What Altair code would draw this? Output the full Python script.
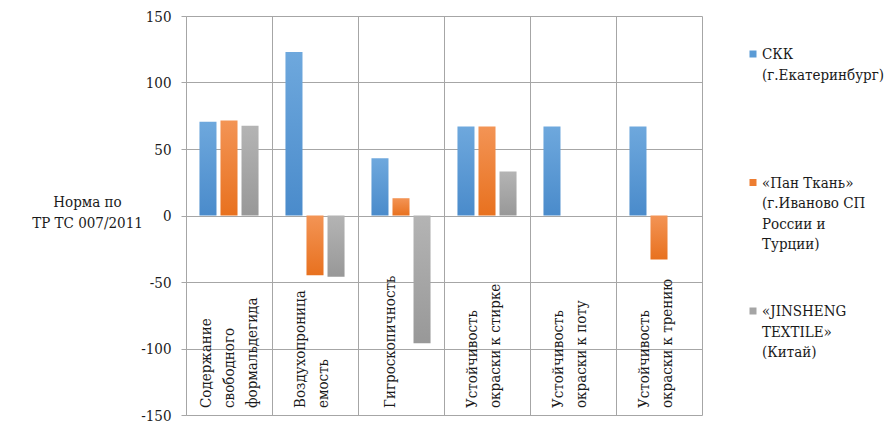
import altair as alt
import pandas as pd

# ---- data ----
categories = [
    "Содержание\nсвободного\nформальдегида",
    "Воздухопроница\nемость",
    "Гигроскопичность",
    "Устойчивость\nокраски к стирке",
    "Устойчивость\nокраски к поту",
    "Устойчивость\nокраски к трению",
]
series_keys = ["СКК (г.Екатеринбург)",
               "«Пан Ткань» (г.Иваново СП России и Турции)",
               "«JINSHENG TEXTILE» (Китай)"]
series_labels = ["СКК\n(г.Екатеринбург)",
                 "«Пан Ткань»\n(г.Иваново СП\nРоссии и\nТурции)",
                 "«JINSHENG\nTEXTILE»\n(Китай)"]
ckk = [70.5, 123, 43, 67, 67, 67]
pan = [71.5, -45, 13, 67, None, -33]
jin = [67.5, -46, -96, 33, None, None]
y_ticks = [-150, -100, -50, 0, 50, 100, 150]
y_title = ["Норма по", "ТР ТС 007/2011"]
colors = ["#5B9BD5", "#ED7D31", "#A5A5A5"]
grad_top = ["#6EA8DD", "#F39455", "#B4B4B4"]
grad_bottom = ["#4A8BCB", "#E8711F", "#989898"]

rows = []
for s, vals in zip(series_keys, [ckk, pan, jin]):
    for c, v in zip(categories, vals):
        if v is not None:
            rows.append({"cat": c, "series": s, "value": v})
df = pd.DataFrame(rows)
lab_df = pd.DataFrame({"cat": categories,
                       "nlines": [c.count("\n") + 1 for c in categories]})
leg_df = pd.DataFrame({"series": series_keys, "label": series_labels})

FONT = "DejaVu Serif Condensed, DejaVu Serif"
FS = 15
GRID = "#a6a6a6"
TXT = "#1a1a1a"

color_scale = alt.Scale(domain=series_keys, range=colors)

x_enc = alt.X("cat:N", sort=categories,
              scale=alt.Scale(paddingInner=0, paddingOuter=0),
              axis=alt.Axis(labels=False, ticks=False, domain=False, title=None,
                            grid=True, tickBand="extent", gridColor=GRID,
                            gridOpacity=1))
xoff_enc = alt.XOffset("series:N", sort=series_keys,
                       scale=alt.Scale(domain=series_keys, paddingInner=0.19,
                                       paddingOuter=0.64))
y_enc = alt.Y("value:Q",
              scale=alt.Scale(domain=[-150, 150], nice=False),
              axis=alt.Axis(values=y_ticks, title=y_title, titleAngle=0,
                            titleAlign="center", titleBaseline="middle",
                            titleX=-99, titleY=185,
                            titleFontSize=FS, titleFontWeight="normal",
                            titleColor=TXT, titleLineHeight=21,
                            labelFontSize=FS, labelColor=TXT,
                            labelExpr="replace(datum.label, '\u2212', '-')",
                            labelPadding=10, tickSize=5, tickColor=GRID,
                            domainColor=GRID, gridColor=GRID, gridOpacity=1))

bar_layers = []
for s, top, bot in zip(series_keys, grad_top, grad_bottom):
    bar_layers.append(
        alt.Chart(df).transform_filter(alt.datum.series == s).mark_bar(
            color=alt.Gradient(gradient="linear", x1=0, x2=0, y1=0, y2=1,
                               stops=[alt.GradientStop(color=top, offset=0),
                                      alt.GradientStop(color=bot, offset=1)])
        ).encode(x=x_enc, xOffset=xoff_enc, y=y_enc)
    )

label_layers = []
for n, shift in [(1, -11), (2, -15), (3, -23)]:
    label_layers.append(
        alt.Chart(lab_df).transform_filter(alt.datum.nlines == n).mark_text(
            angle=270, align="left", baseline="middle", lineBreak="\n",
            fontSize=FS, lineHeight=23, color=TXT, dx=7, dy=shift,
        ).encode(
            x=alt.X("cat:N", sort=categories),
            y=alt.datum(-150),
            text="cat:N",
        )
    )

main = alt.layer(*bar_layers, *label_layers).properties(width=516, height=399)

leg_base = alt.Chart(leg_df).encode(
    y=alt.Y("series:N", sort=series_keys,
            scale=alt.Scale(type="point", range=[38, 295], padding=0),
            axis=None)
)
leg_sq = leg_base.mark_square(size=49, opacity=1).encode(
    x=alt.value(11),
    color=alt.Color("series:N", scale=color_scale, legend=None),
)
leg_txt = leg_base.mark_text(
    align="left", baseline="top", lineBreak="\n", fontSize=FS,
    lineHeight=20.5, color=TXT, dy=-7,
).encode(x=alt.value(20), text="label:N")
legend = alt.layer(leg_sq, leg_txt).properties(width=130, height=399)

chart = alt.hconcat(main, legend, spacing=40, bounds="flush").properties(
    padding={"left": 23, "top": 1, "right": 0, "bottom": 0}
).configure(font=FONT).configure_view(stroke=None).configure_concat(spacing=40
).configure_text(font=FONT).configure_axis(labelFont=FONT, titleFont=FONT)

chart.save("out.html", embed_options={"renderer": "svg", "actions": False})
